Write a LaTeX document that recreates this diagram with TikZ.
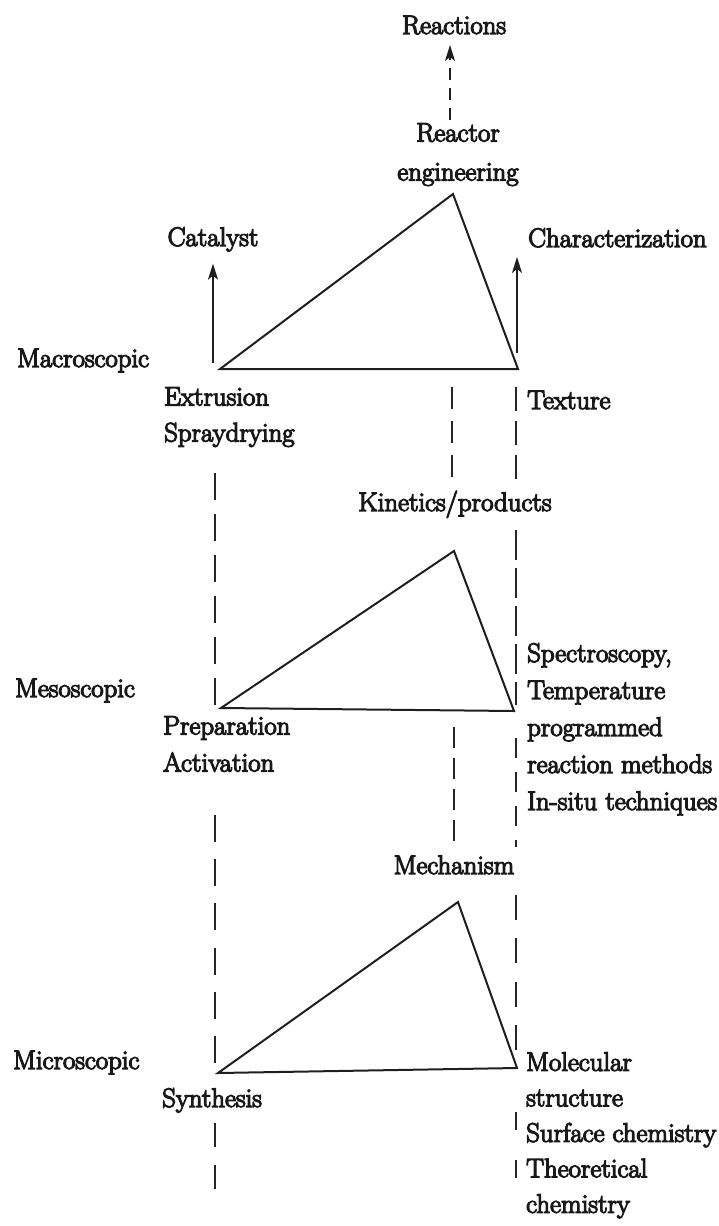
\documentclass[tikz,border=0pt]{standalone}
\usepackage{fontspec}
\setmainfont{Latin Modern Roman}[FakeBold=4.5]
\usetikzlibrary{arrows.meta}
\begin{document}
\begin{tikzpicture}[x=1pt,y=-1pt,
  lbl/.style={inner sep=0pt, text=black!90, font=\fontsize{26.8}{36}\selectfont},
  mlbl/.style={lbl, align=left, anchor=north west},
  tri/.style={draw=black!88, line width=2pt, line join=miter},
  link/.style={draw=black!85, line width=1.6pt, dash pattern=on 26pt off 15pt},
  up/.style={draw=black!88, line width=1.6pt, -{Stealth[length=16pt,width=10pt,inset=4pt]}},
  dup/.style={up, dash pattern=on 12pt off 8pt}]
\useasboundingbox (0,0) rectangle (718,1226);

% ---------- text ----------
\node[lbl, anchor=base] (reactions) at (454,34) {Reactions};
\node[lbl, align=center, anchor=north, font=\fontsize{26.8}{39}\selectfont] (reactor) at (458,123) {Reactor\\engineering};
\node[lbl, anchor=base] (catalyst) at (213,246) {Catalyst};
\node[lbl, anchor=base west] (charact) at (528,247) {Characterization};

\node[lbl, anchor=base west] (macro) at (17,367) {Macroscopic};
\node[mlbl] (extr) at (164,387) {Extrusion\\Spraydrying};
\node[lbl, anchor=base west] (texture) at (527,409) {Texture};
\node[lbl, anchor=base] (kinetics) at (455,511) {Kinetics/products};

\node[lbl, anchor=base west] (meso) at (15,697) {Mesoscopic};
\node[mlbl, font=\fontsize{26.8}{37}\selectfont] (prep) at (163,716) {Preparation\\Activation};
\node[mlbl, font=\fontsize{26.8}{37}\selectfont] (spectro) at (527,643) {Spectroscopy,\\Temperature\\programmed\\reaction methods\\In-situ techniques};
\node[lbl, anchor=base] (mech) at (454,874) {Mechanism};

\node[lbl, anchor=base west] (micro) at (13,1069) {Microscopic};
\node[lbl, anchor=base west] (synth) at (162,1107) {Synthesis};
\node[mlbl, font=\fontsize{26.8}{35.5}\selectfont] (molec) at (526,1052) {Molecular\\structure\\Surface chemistry\\Theoretical\\chemistry};

% ---------- triangles ----------
\coordinate (T1L) at (220,369); \coordinate (T1A) at (453,194); \coordinate (T1R) at (518,369);
\coordinate (T2L) at (221,708); \coordinate (T2A) at (454,551); \coordinate (T2R) at (514,711);
\coordinate (T3L) at (218,1073); \coordinate (T3A) at (458,902); \coordinate (T3R) at (517,1068);
\draw[tri] (T1L) -- (T1A) -- (T1R) -- cycle;
\draw[tri] (T2L) -- (T2A) -- (T2R) -- cycle;
\draw[tri] (T3L) -- (T3A) -- (T3R) -- cycle;

% ---------- arrows ----------
\coordinate (catB) at (213,363);
\coordinate (charB) at (517,353); \coordinate (charT) at (517,257);
\coordinate (reB) at (450,120); \coordinate (reT) at (450,45);
\draw[up, shorten >=12pt] (catB) -- (catalyst.south);
\draw[up] (charB) -- (charT);
\draw[dup] (reB) -- (reT);

% ---------- dashed verticals ----------
\coordinate (L1a) at (215,473);  \coordinate (L1b) at (215,705);
\coordinate (L2a) at (215,815);  \coordinate (L2b) at (215,1063);
\coordinate (L3a) at (215,1123); \coordinate (L3b) at (215,1192);
\draw[link, dash pattern=on 27pt off 14pt] (L1a) -- (L1b);
\draw[link, dash pattern=on 27pt off 17.2pt] (L2a) -- (L2b);
\draw[link, dash pattern=on 24pt off 18pt] (L3a) -- (L3b);

\coordinate (M1a) at (452,387);  \coordinate (M1b) at (452,487);
\coordinate (M2a) at (454,727);  \coordinate (M2b) at (454,850);
\draw[link, dash pattern=on 22pt off 12pt] (M1a) -- (M1b);
\draw[link, dash pattern=on 21pt off 10pt] (M2a) -- (M2b);

\coordinate (R1a) at (516,387);  \coordinate (R1b) at (516,487);
\coordinate (R2a) at (516,530);  \coordinate (R2b) at (516,705);
\coordinate (R3a) at (516,738);  \coordinate (R3b) at (516,847);
\coordinate (R4a) at (516,895);  \coordinate (R4b) at (516,1050);
\coordinate (R5a) at (516,1112); \coordinate (R5b) at (516,1180);
\draw[link, dash pattern=on 24pt off 10pt] (R1a) -- (R1b);
\draw[link, dash pattern=on 30pt off 8pt] (R2a) -- (R2b);
\draw[link, dash pattern=on 20pt off 14pt] (R3a) -- (R3b);
\draw[link, dash pattern=on 25pt off 18.3pt] (R4a) -- (R4b);
\draw[link, dash pattern=on 18pt off 30pt] (R5a) -- (R5b);
\end{tikzpicture}
\end{document}
